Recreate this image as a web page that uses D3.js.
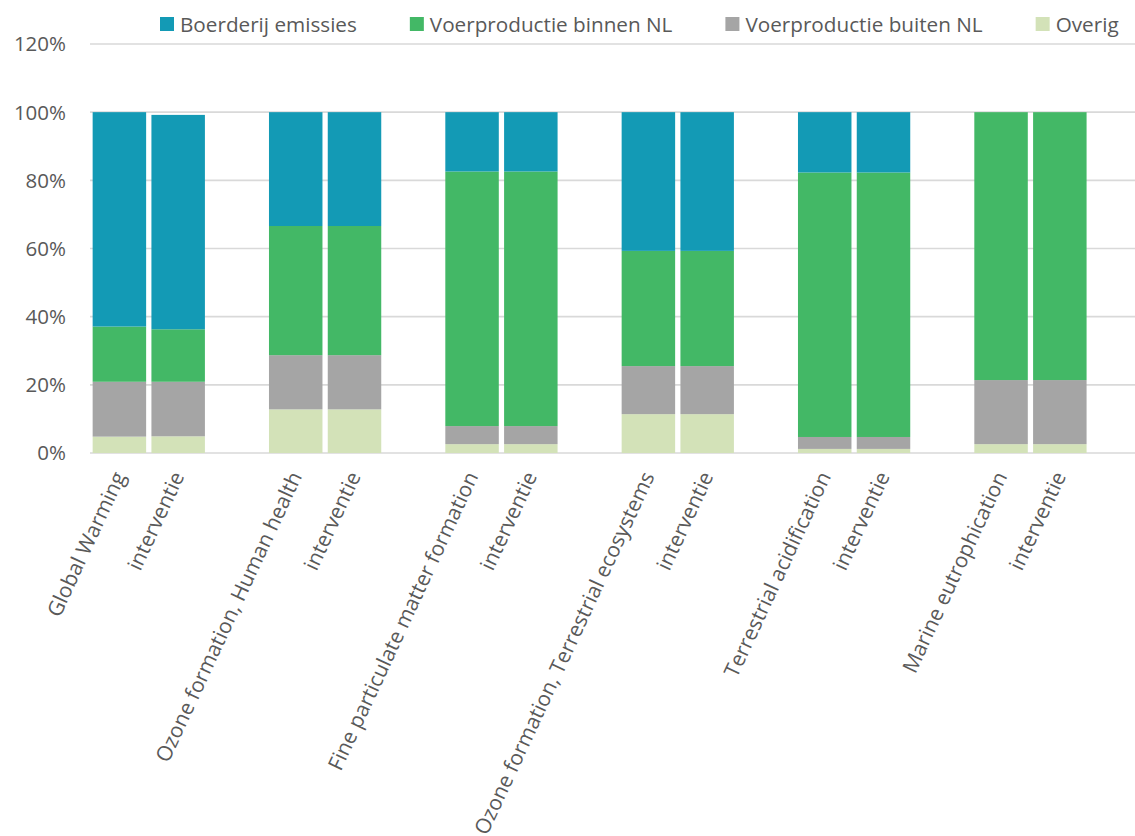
<!DOCTYPE html>
<html>
<head>
<meta charset="utf-8">
<script src="https://cdn.jsdelivr.net/npm/d3@7"></script>
<style>
  html, body { margin: 0; padding: 0; background: #fff; }
  svg { display: block; }
  text { font-family: "Open Sans", sans-serif; fill: #595959; }
</style>
</head>
<body>
<svg id="chart" width="1135" height="836"></svg>
<script>
const categories = [
  "Global Warming", "interventie",
  "Ozone formation, Human health", "interventie",
  "Fine particulate matter formation", "interventie",
  "Ozone formation, Terrestrial ecosystems", "interventie",
  "Terrestrial acidification", "interventie",
  "Marine eutrophication", "interventie"
];
const seriesNames = ["Boerderij emissies", "Voerproductie binnen NL", "Voerproductie buiten NL", "Overig"];
const seriesColors = ["#139AB5", "#43B866", "#A5A5A5", "#D3E2B8"];
const boerderij = [62.9, 62.9, 33.4, 33.4, 17.4, 17.4, 40.7, 40.7, 17.7, 17.7, 0, 0];
const binnen    = [16.2, 15.4, 37.9, 37.9, 74.7, 74.7, 33.8, 33.8, 77.6, 77.6, 78.6, 78.6];
const buiten    = [16.1, 16.0, 15.9, 15.9, 5.3, 5.3, 14.1, 14.1, 3.5, 3.5, 18.8, 18.8];
const overig    = [4.8, 4.9, 12.8, 12.8, 2.6, 2.6, 11.4, 11.4, 1.2, 1.2, 2.6, 2.6];
const yTicks = [0, 20, 40, 60, 80, 100, 120];

const svg = d3.select("#chart");

// slots: each pair followed by an empty slot
const slots = [];
categories.forEach((c, i) => {
  slots.push("c" + i);
  if (i % 2 === 1) slots.push("gap" + i);
});

const x = d3.scaleBand().domain(slots).range([90, 1148]).paddingInner(0.09).paddingOuter(0.045);
const y = d3.scaleLinear().domain([0, 120]).range([453, 44]);

const rows = categories.map((c, i) => ({
  key: "c" + i, label: c,
  overig: overig[i], buiten: buiten[i], binnen: binnen[i], boerderij: boerderij[i]
}));
const stackKeys = ["overig", "buiten", "binnen", "boerderij"];
const keyColor = { boerderij: seriesColors[0], binnen: seriesColors[1], buiten: seriesColors[2], overig: seriesColors[3] };
const stacked = d3.stack().keys(stackKeys)(rows);

// gridlines
svg.append("g").selectAll("line").data(yTicks).join("line")
  .attr("x1", 90).attr("x2", 1148)
  .attr("y1", d => y(d)).attr("y2", d => y(d))
  .attr("stroke", "#d9d9d9").attr("stroke-width", 1.6);

// y labels
svg.append("g").selectAll("text").data(yTicks).join("text")
  .attr("x", 66).attr("y", d => y(d)).attr("dy", "0.36em")
  .attr("text-anchor", "end").attr("font-size", 20.5)
  .text(d => d + "%");

// bars
svg.append("g").selectAll("g").data(stacked).join("g")
  .attr("fill", d => keyColor[d.key])
  .selectAll("rect").data(d => d).join("rect")
  .attr("x", d => x(d.data.key))
  .attr("width", x.bandwidth())
  .attr("y", d => y(d[1]))
  .attr("height", d => Math.max(0, y(d[0]) - y(d[1])));

// x labels
svg.append("g").selectAll("text").data(rows).join("text")
  .attr("transform", d => `translate(${x(d.key) + x.bandwidth() / 2},473) rotate(-65)`)
  .attr("text-anchor", "end").attr("dy", "0.35em").attr("font-size", 21)
  .text(d => d.label);

// legend
const lg = svg.append("g");
let lx = 160;
seriesNames.forEach((name, i) => {
  lg.append("rect").attr("x", lx).attr("y", 17).attr("width", 14).attr("height", 14).attr("fill", seriesColors[i]);
  const t = lg.append("text").attr("x", lx + 20).attr("y", 31.5).attr("font-size", 20.7).text(name);
  lx += 20 + t.node().getComputedTextLength() + 53;
});
</script>
</body>
</html>
